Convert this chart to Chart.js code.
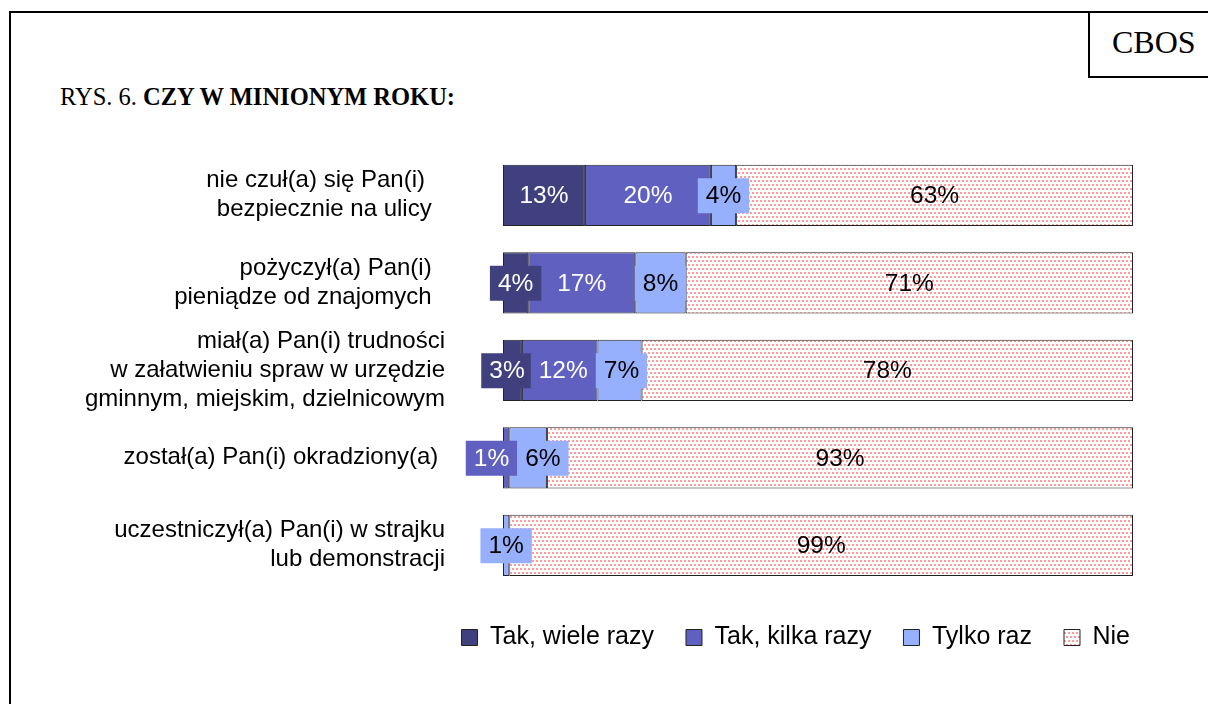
<!DOCTYPE html>
<html>
<head>
<meta charset="utf-8">
<script src="https://cdn.jsdelivr.net/npm/chart.js@4"></script>
<style>
  body { margin: 0; width: 1208px; height: 704px; overflow: hidden; background: #fff; position: relative; }
  #frame { position: absolute; left: 9px; top: 11px; width: 1300px; height: 800px; border: 2px solid #000; }
  #cbos { position: absolute; left: 1088px; top: 11px; width: 200px; height: 65px; border-left: 2px solid #000; border-bottom: 2px solid #000; }
  #cbosText { position: absolute; left: 1112px; top: 26px; font: 32px "Liberation Serif", "Times New Roman", serif; line-height: 1; }
  #title { position: absolute; left: 60px; top: 85px; font: 24.5px "Liberation Serif", "Times New Roman", serif; line-height: 1; white-space: nowrap; }
  #wrap { position: absolute; left: 10px; top: 140px; }
</style>
</head>
<body>
<div id="frame"></div>
<div id="cbos"></div>
<div id="cbosText">CBOS</div>
<div id="title">RYS. 6. <b>CZY W MINIONYM ROKU:</b></div>
<div id="wrap"><canvas id="Chart" width="1152" height="520"></canvas></div>
<script>
categories = [
  ["nie czuł(a) się Pan(i)   ", "bezpiecznie na ulicy  "],
  ["pożyczył(a) Pan(i)  ", "pieniądze od znajomych  "],
  ["miał(a) Pan(i) trudności", "w załatwieniu spraw w urzędzie", "gminnym, miejskim, dzielnicowym"],
  ["został(a) Pan(i) okradziony(a) "],
  ["uczestniczył(a) Pan(i) w strajku", "lub demonstracji"]
];
seriesNames = ["Tak, wiele razy", "Tak, kilka razy", "Tylko raz", "Nie"];
manyTimes = [13, 4, 3, 0, 0];
fewTimes = [20, 17, 12, 1, 0];
onceOnly = [4, 8, 7, 6, 1];
never = [63, 71, 78, 93, 99];

// pink dotted fill used by Excel for "Nie"
function dotPattern() {
  const c = document.createElement("canvas");
  c.width = 4;
  c.height = 8;
  const g = c.getContext("2d");
  g.fillStyle = "#ffffff";
  g.fillRect(0, 0, 4, 8);
  g.fillStyle = "#ff9a9a";
  g.fillRect(0, 0, 2, 2);
  g.fillRect(2, 4, 2, 2);
  return g.createPattern(c, "repeat");
}

const fills = ["#40407f", "#6060c0", "#96b0fd", dotPattern()];
const textColors = ["#ffffff", "#ffffff", "#000000", "#000000"];
const sansFont = '"Liberation Sans", Arial, sans-serif';

// value labels with a box in the segment colour, nudged apart when they collide
const segmentLabels = {
  id: "segmentLabels",
  afterDatasetsDraw(chart) {
    const ctx = chart.ctx;
    ctx.save();
    ctx.font = "24.5px " + sansFont;
    ctx.textAlign = "center";
    ctx.textBaseline = "middle";
    for (let i = 0; i < categories.length; i++) {
      const items = [];
      chart.data.datasets.forEach((ds, d) => {
        const v = ds.data[i];
        if (!v) return;
        const bar = chart.getDatasetMeta(d).data[i];
        const text = v + "%";
        items.push({ d: d, text: text, w: ctx.measureText(text).width + 16, x: (bar.x + bar.base) / 2, y: bar.y });
      });
      for (let k = 1; k < items.length; k++) {
        const a = items[k - 1], b = items[k];
        const overlap = (a.x + a.w / 2) - (b.x - b.w / 2);
        if (overlap > 0) {
          a.x -= overlap / 2;
          b.x += overlap / 2;
        }
      }
      items.forEach(it => {
        if (it.d < 3) {
          ctx.fillStyle = fills[it.d];
          ctx.fillRect(it.x - it.w / 2, it.y - 17, it.w, 35);
        }
        ctx.fillStyle = textColors[it.d];
        ctx.fillText(it.text, it.x, it.y + 1);
      });
    }
    ctx.restore();
  }
};

function makeSet(name, values, idx) {
  return {
    label: name,
    data: values,
    backgroundColor: fills[idx],
    borderColor: "#222222",
    borderWidth: 1,
    borderSkipped: false,
    barPercentage: 0.7,
    categoryPercentage: 1.0
  };
}

const myChart = new Chart("Chart", {
  type: "bar",
  data: {
    labels: categories,
    datasets: [
      makeSet(seriesNames[0], manyTimes, 0),
      makeSet(seriesNames[1], fewTimes, 1),
      makeSet(seriesNames[2], onceOnly, 2),
      makeSet(seriesNames[3], never, 3)
    ]
  },
  options: {
    indexAxis: "y",
    responsive: false,
    animation: false,
    devicePixelRatio: 1,
    layout: { padding: { top: 11.5, left: 0, right: 0, bottom: 0 } },
    scales: {
      x: {
        stacked: true,
        min: 0,
        max: 100,
        grid: { display: false, drawTicks: false },
        border: { display: false },
        ticks: { display: false },
        afterFit(scale) { scale.height = 4; }
      },
      y: {
        stacked: true,
        grid: { display: false, drawTicks: false },
        border: { display: false },
        ticks: { color: "#000", padding: 58, autoSkip: false, font: { family: sansFont, size: 24 } },
        afterFit(scale) {
          scale.width = 493;
          scale.paddingTop = 0;
          scale.paddingBottom = 0;
        }
      },
      y2: {
        position: "right",
        grid: { display: false, drawTicks: false },
        border: { display: false },
        ticks: { display: false },
        afterFit(scale) {
          scale.width = 29;
          scale.paddingTop = 0;
          scale.paddingBottom = 0;
        }
      }
    },
    plugins: {
      legend: {
        position: "bottom",
        align: "end",
        labels: {
          color: "#000",
          boxWidth: 16,
          boxHeight: 16,
          padding: 32,
          font: { family: sansFont, size: 25 }
        }
      },
      tooltip: { enabled: false }
    }
  },
  plugins: [segmentLabels]
});
</script>
</body>
</html>
